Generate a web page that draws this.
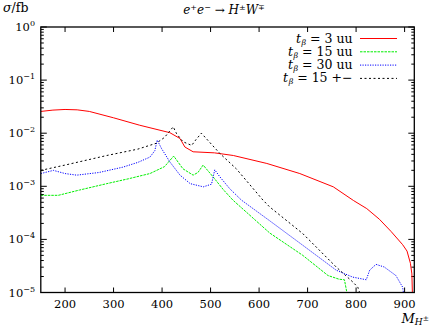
<!DOCTYPE html>
<html>
<head>
<meta charset="utf-8">
<script src="https://cdn.jsdelivr.net/npm/d3@7"></script>
<style>
  body { margin: 0; background: #fff; }
</style>
</head>
<body>
<div id="chart"></div>
<script>
// cross sections, read as log10(sigma/fb) vs M_H+-
const mRed = [150, 175, 200, 225, 250, 300, 354, 416, 437, 447, 464, 508, 547, 616, 684, 753, 795, 822, 848, 872, 896, 905, 912, 915, 916, 917];
const lRed = [-1.59, -1.565, -1.553, -1.56, -1.59, -1.71, -1.85, -1.99, -2.10, -2.26, -2.35, -2.37, -2.42, -2.57, -2.76, -3.01, -3.27, -3.42, -3.62, -3.85, -4.10, -4.22, -4.45, -4.65, -5.0, -5.4];

const mGreen = [150, 186, 230, 286, 330, 375, 405, 424, 443, 464, 474, 484.6, 505, 526, 546, 622, 690, 742, 765, 776, 783];
const lGreen = [-3.17, -3.17, -3.07, -2.95, -2.86, -2.76, -2.63, -2.43, -2.67, -2.79, -2.74, -2.60, -2.82, -3.06, -3.26, -3.88, -4.30, -4.68, -4.75, -4.76, -5.1];

const mBlue = [150, 176, 200, 224, 270, 319, 350, 375, 385, 390, 399, 416, 437, 458, 485, 502, 508.6, 519, 539, 563.6, 622, 690, 759, 793, 821, 828, 841, 858, 882, 896, 899];
const lBlue = [-2.76, -2.70, -2.76, -2.79, -2.74, -2.64, -2.55, -2.45, -2.33, -2.13, -2.29, -2.54, -2.79, -2.95, -3.01, -2.96, -2.69, -2.82, -3.04, -3.26, -3.65, -4.11, -4.58, -4.71, -4.76, -4.58, -4.47, -4.52, -4.68, -4.90, -5.1];

const mBlack = [150, 200, 286, 350, 388, 405, 423, 430, 443, 461, 470, 481, 519, 553, 608, 622, 690, 759, 793, 803.5, 811];
const lBlack = [-2.70, -2.60, -2.42, -2.30, -2.19, -2.08, -1.88, -2.01, -2.16, -2.23, -2.12, -2.00, -2.38, -2.67, -3.26, -3.39, -3.89, -4.52, -4.80, -4.90, -5.1];

const legendLabels = ['3 uu', '15 uu', '30 uu', '15 +\u2212'];
const xTicks = [200, 300, 400, 500, 600, 700, 800, 900];
const yExps = [0, -1, -2, -3, -4, -5];

const width = 432;
const height = 327;
const margin = { top: 27, bottom: 34.5, left: 40.8, right: 17.7 };
const serif = "'DejaVu Serif', 'Liberation Serif', serif";

const series = [
  { m: mRed, l: lRed, color: '#ff0000', dash: 'none' },
  { m: mGreen, l: lGreen, color: '#00ee00', dash: '2.5,1' },
  { m: mBlue, l: lBlue, color: '#0000ff', dash: '1.2,1.3' },
  { m: mBlack, l: lBlack, color: '#000000', dash: '2,2.5' },
];

const svg = d3
  .select('#chart')
  .append('svg')
  .attr('width', width)
  .attr('height', height)
  .attr('font-family', serif);

const xScale = d3
  .scaleLinear()
  .domain([150, 920])
  .range([margin.left, width - margin.right]);

const yScale = d3
  .scaleLog()
  .domain([1e-5, 1])
  .range([height - margin.bottom, margin.top]);

const x0 = margin.left;
const x1 = width - margin.right;
const y0 = height - margin.bottom;
const y1 = margin.top;

svg
  .append('clipPath')
  .attr('id', 'plot-clip')
  .append('rect')
  .attr('x', x0)
  .attr('y', y1)
  .attr('width', x1 - x0)
  .attr('height', y0 - y1);

// ticks
const ticks = svg.append('g').attr('stroke', '#000').attr('stroke-width', 1);

xTicks.forEach((t) => {
  ticks.append('line').attr('x1', xScale(t)).attr('x2', xScale(t)).attr('y1', y0).attr('y2', y0 - 5);
  ticks.append('line').attr('x1', xScale(t)).attr('x2', xScale(t)).attr('y1', y1).attr('y2', y1 + 5);
});

yScale.ticks().forEach((t) => {
  const major = Math.abs(Math.log10(t) - Math.round(Math.log10(t))) < 1e-9;
  const len = major ? 6 : 3;
  const y = yScale(t);
  ticks.append('line').attr('x1', x0).attr('x2', x0 + len).attr('y1', y).attr('y2', y);
  ticks.append('line').attr('x1', x1).attr('x2', x1 - len).attr('y1', y).attr('y2', y);
});

// curves
const line = d3
  .line()
  .x((d) => xScale(d[0]))
  .y((d) => yScale(Math.pow(10, d[1])));

const curves = svg.append('g').attr('clip-path', 'url(#plot-clip)');
series.forEach((s) => {
  curves
    .append('path')
    .datum(s.m.map((m, i) => [m, s.l[i]]))
    .attr('d', line)
    .attr('fill', 'none')
    .attr('stroke', s.color)
    .attr('stroke-width', 1)
    .attr('stroke-dasharray', s.dash);
});

// frame
svg
  .append('rect')
  .attr('x', x0)
  .attr('y', y1)
  .attr('width', x1 - x0)
  .attr('height', y0 - y1)
  .attr('fill', 'none')
  .attr('stroke', '#000')
  .attr('stroke-width', 1.3);

// x tick labels
svg
  .selectAll('.xlab')
  .data(xTicks)
  .join('text')
  .attr('class', 'xlab')
  .attr('x', (d) => xScale(d))
  .attr('y', 308)
  .attr('text-anchor', 'middle')
  .style('font-size', '11.5px')
  .text((d) => d);

// y tick labels
yExps.forEach((e) => {
  const t = svg
    .append('text')
    .attr('x', 35)
    .attr('y', yScale(Math.pow(10, e)) + 4)
    .attr('text-anchor', 'end')
    .style('font-size', '11.5px');
  t.append('tspan').text('10');
  t.append('tspan')
    .attr('dy', -5)
    .style('font-size', '8px')
    .text(e === 0 ? '0' : '\u2212' + -e);
});

// axis titles
const yt = svg.append('text').attr('x', 3).attr('y', 12).style('font-size', '12.5px');
yt.append('tspan').style('font-style', 'italic').text('\u03c3');
yt.append('tspan').text('/fb');

const xt = svg.append('text').attr('x', 429).attr('y', 322.5).attr('text-anchor', 'end').style('font-size', '13px');
xt.append('tspan').style('font-style', 'italic').text('M');
xt.append('tspan').attr('dy', 2.5).style('font-size', '9px').style('font-style', 'italic').text('H');
xt.append('tspan').attr('dy', -4).style('font-size', '7.5px').text('\u00b1');

// title
const title = svg.append('text').attr('x', 224).attr('y', 14).attr('text-anchor', 'middle').style('font-size', '12px');
title.append('tspan').style('font-style', 'italic').text('e');
title.append('tspan').attr('dy', -4).style('font-size', '8px').text('+');
title.append('tspan').attr('dy', 4).style('font-style', 'italic').text('e');
title.append('tspan').attr('dy', -4).style('font-size', '8px').text('\u2212');
title.append('tspan').attr('dy', 4).text(' \u2192 ');
title.append('tspan').style('font-style', 'italic').text('H');
title.append('tspan').attr('dy', -4).style('font-size', '8px').text('\u00b1');
title.append('tspan').attr('dy', 4).style('font-style', 'italic').text('W');
title.append('tspan').attr('dy', -4).style('font-size', '8px').text('\u2213');

// legend
const legend = svg.append('g');
series.forEach((s, i) => {
  const y = 38.5 + i * 13.3;
  const t = legend
    .append('text')
    .attr('x', 352.5)
    .attr('y', y + 4)
    .attr('text-anchor', 'end')
    .style('font-size', '12.5px');
  t.append('tspan').style('font-style', 'italic').text('t');
  t.append('tspan').attr('dx', 0.5).attr('dy', 2).style('font-size', '8px').style('font-style', 'italic').text('\u03b2');
  t.append('tspan').attr('dy', -2).text(' = ' + legendLabels[i]);
  legend
    .append('line')
    .attr('x1', 360)
    .attr('x2', 397)
    .attr('y1', y)
    .attr('y2', y)
    .attr('stroke', s.color)
    .attr('stroke-width', 1)
    .attr('stroke-dasharray', s.dash);
});
</script>
</body>
</html>
